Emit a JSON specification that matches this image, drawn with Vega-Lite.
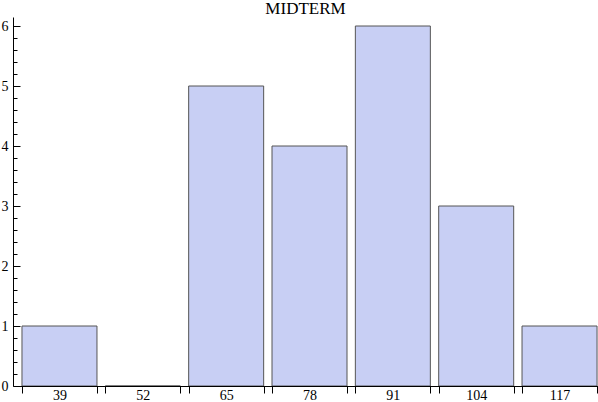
{
  "$schema": "https://vega.github.io/schema/vega-lite/v6.json",
  "autosize": "none",
  "width": 585,
  "height": 369,
  "padding": {"left": 13, "top": 17, "right": 0, "bottom": 16},
  "background": "white",
  "title": {"text": "MIDTERM", "font": "Liberation Serif", "fontSize": 17, "fontWeight": "normal", "color": "black", "anchor": "middle", "frame": "group", "baseline": "alphabetic", "offset": 4, "dy": 18},
  "data": {"values": [
    {"score": 39, "lo": 33.15, "hi": 44.85, "count": 1},
    {"score": 52, "lo": 46.15, "hi": 57.85, "count": 0},
    {"score": 65, "lo": 59.15, "hi": 70.85, "count": 5},
    {"score": 78, "lo": 72.15, "hi": 83.85, "count": 4},
    {"score": 91, "lo": 85.15, "hi": 96.85, "count": 6},
    {"score": 104, "lo": 98.15, "hi": 109.85, "count": 3},
    {"score": 117, "lo": 111.15, "hi": 122.85, "count": 1}
  ]},
  "mark": {"type": "bar", "fill": "#c8cff4", "stroke": "#555555", "strokeWidth": 1, "clip": true},
  "encoding": {
    "x": {"field": "lo", "type": "quantitative",
      "scale": {"domain": [31.75, 123], "nice": false, "zero": false},
      "axis": {"title": null, "grid": false, "domainColor": "black", "tickColor": "black",
        "values": [33.15, 39, 44.85, 46.15, 52, 57.85, 59.15, 65, 70.85, 72.15, 78, 83.85, 85.15, 91, 96.85, 98.15, 104, 109.85, 111.15, 117, 122.85],
        "labelExpr": "(datum.value - 39) % 13 === 0 ? format(datum.value, 'd') : ''",
        "tickSize": {"condition": {"test": "(datum.value - 39) % 13 === 0", "value": 0}, "value": 7},
        "labelOverlap": false, "labelFlush": false, "labelBound": false,
        "labelPadding": 2, "labelFont": "Liberation Serif", "labelFontSize": 14, "labelColor": "black"}},
    "x2": {"field": "hi"},
    "y": {"field": "count", "type": "quantitative",
      "scale": {"domain": [0, 6.15], "nice": false},
      "axis": {"title": null, "grid": false, "domainColor": "black", "tickColor": "black",
        "values": [0, 0.2, 0.4, 0.6, 0.8, 1, 1.2, 1.4, 1.6, 1.8, 2, 2.2, 2.4, 2.6, 2.8, 3, 3.2, 3.4, 3.6, 3.8, 4, 4.2, 4.4, 4.6, 4.8, 5, 5.2, 5.4, 5.6, 5.8, 6],
        "labelExpr": "datum.value % 1 === 0 ? format(datum.value, 'd') : ''",
        "tickSize": {"condition": {"test": "datum.value % 1 === 0", "value": -7}, "value": -4},
        "labelOverlap": false, "labelFlush": false, "labelBound": false,
        "labelPadding": 12, "labelFont": "Liberation Serif", "labelFontSize": 14, "labelColor": "black"}},
    "y2": {"datum": 0}
  },
  "config": {"view": {"stroke": null}}
}
